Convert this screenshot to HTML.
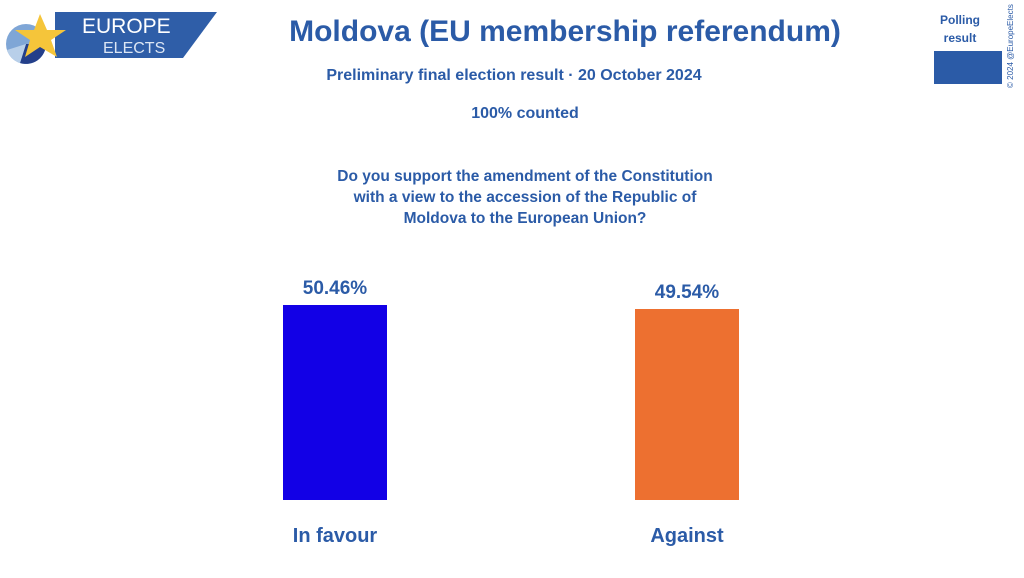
<!DOCTYPE html>
<html><head><meta charset="utf-8"><style>
body{margin:0;width:1024px;height:578px;background:#fff;position:relative;overflow:hidden;font-family:"Liberation Sans Narrow","Liberation Sans",sans-serif;color:#2b5ba7}
.t{position:absolute;white-space:nowrap;font-weight:bold;text-align:center}
</style></head><body>
<svg width="230" height="70" style="position:absolute;left:0;top:0">
<polygon points="55,12 217,12 183,58 55,58" fill="#2f5ea8"/>
<circle cx="26" cy="44" r="20" fill="#7fa6d6"/>
<path d="M26,44 L46,44 A20,20 0 0 1 20,63 Z" fill="#243f8a"/>
<path d="M26,44 L20,63 A20,20 0 0 1 7,50 Z" fill="#b8cfe9"/>
<polygon points="40,14 47,30 66,30 51,40 57,57 40,47 25,57 30,40 15,30 34,30" fill="#f5c53a"/>
<text x="82" y="33" font-family="Liberation Sans" font-size="21" fill="#fff">EUROPE</text>
<text x="103" y="53" font-family="Liberation Sans" font-size="16" fill="#dce6f4">ELECTS</text>
</svg>
<div class="t" style="left:0;width:1130px;top:15px;font-size:30px">Moldova (EU membership referendum)</div>
<div class="t" style="left:0;width:1028px;top:67px;font-size:16px">Preliminary final election result · 20 October 2024</div>
<div class="t" style="left:0;width:1050px;top:105px;font-size:16px">100% counted</div>
<div class="t" style="left:0;width:1050px;top:166px;font-size:15.5px;line-height:21px">Do you support the amendment of the Constitution<br>with a view to the accession of the Republic of<br>Moldova to the European Union?</div>
<div class="t" style="left:920px;width:80px;top:11px;font-size:12px;line-height:18px">Polling<br>result</div>
<div style="position:absolute;left:934px;top:51px;width:68px;height:33px;background:#2b5ba7"></div>
<div style="position:absolute;left:1006px;top:88px;transform:rotate(-90deg);transform-origin:0 0;font-size:8px;font-family:'Liberation Sans';white-space:nowrap">© 2024 @EuropeElects</div>
<div style="position:absolute;left:283px;top:305px;width:104px;height:195px;background:#1200e6"></div>
<div style="position:absolute;left:635px;top:309px;width:104px;height:191px;background:#ed7030"></div>
<div class="t" style="left:283px;width:104px;top:278px;font-size:19px">50.46%</div>
<div class="t" style="left:635px;width:104px;top:282px;font-size:19px">49.54%</div>
<div class="t" style="left:283px;width:104px;top:525px;font-size:20px">In favour</div>
<div class="t" style="left:635px;width:104px;top:525px;font-size:20px">Against</div>
</body></html>
